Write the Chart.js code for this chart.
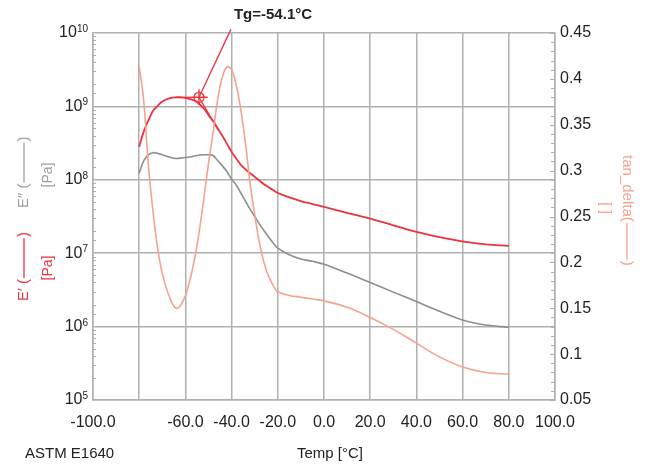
<!DOCTYPE html>
<html>
<head>
<meta charset="utf-8">
<script src="https://cdn.jsdelivr.net/npm/chart.js@4/dist/chart.umd.min.js"></script>
<style>
  body { margin: 0; background: #fff; }
  canvas { display: block; }
</style>
</head>
<body>
<canvas id="dma" width="645" height="466"></canvas>
<script>
// temperature, °C
var temps = [-80, -78, -76, -74, -72, -70, -67, -64, -61, -58, -55, -52, -50, -48, -46, -44, -42, -40,
             -38, -36, -34, -32, -30, -28, -26, -24, -22, -20, -15, -10, -5, 0, 10, 20, 30, 40, 50, 60, 70, 80]

// storage modulus E' [Pa]
var storageMod = [2.82e8, 4.57e8, 6.46e8, 8.71e8, 1.02e9, 1.17e9, 1.29e9, 1.33e9, 1.32e9, 1.26e9, 1.15e9, 9.33e8,
                  7.59e8, 6.31e8, 5.01e8, 3.98e8, 3.09e8, 2.40e8, 1.95e8, 1.60e8, 1.39e8, 1.23e8, 1.10e8, 9.77e7,
                  8.71e7, 7.94e7, 7.24e7, 6.61e7, 5.75e7, 5.13e7, 4.68e7, 4.27e7, 3.55e7, 2.95e7, 2.40e7, 1.95e7,
                  1.66e7, 1.45e7, 1.32e7, 1.26e7]

// loss modulus E'' [Pa]
var lossMod = [1.23e8, 1.82e8, 2.19e8, 2.34e8, 2.29e8, 2.19e8, 2.04e8, 1.95e8, 2.00e8, 2.04e8, 2.14e8, 2.19e8,
               2.19e8, 2.14e8, 1.82e8, 1.55e8, 1.29e8, 1.02e8, 8.51e7, 6.61e7, 5.13e7, 3.98e7, 3.16e7, 2.51e7,
               2.04e7, 1.66e7, 1.38e7, 1.17e7, 9.55e6, 8.32e6, 7.76e6, 7.08e6, 5.37e6, 3.98e6, 2.95e6, 2.19e6,
               1.62e6, 1.23e6, 1.05e6, 9.77e5]

// tan delta []
var tanDelta = [0.414, 0.375, 0.305, 0.255, 0.215, 0.188, 0.163, 0.150, 0.158, 0.181, 0.218, 0.270,
                0.308, 0.342, 0.378, 0.402, 0.413, 0.410, 0.393, 0.366, 0.330, 0.286, 0.252, 0.222,
                0.200, 0.185, 0.175, 0.168, 0.164, 0.162, 0.160, 0.158, 0.151, 0.140, 0.127, 0.112,
                0.097, 0.086, 0.080, 0.078]

// Tg onset construction (on E')
var tgTemp = -54.1
var tgMod = 1.33e9
var tgFlatX = [-64.0, -50.3]
var tgSlopeEnd = { x: -45.8, y: 4.77e8 }
var tgPointerEnd = { x: -40.3, y: 1.12e10 }

var xTicks = [-100, -80, -60, -40, -20, 0, 20, 40, 60, 80, 100]
var decades = [5, 6, 7, 8, 9, 10]

var RED = '#ec3340'
var GRAY = '#8e8e8e'
var SALMON = '#f6a28e'
var GRID = '#b0b0b0'
var FONT = "'Liberation Sans', Arial, sans-serif"

function pts(ys) {
  return temps.map(function (t, i) { return { x: t, y: ys[i] } })
}

function isDecade(v) {
  var l = Math.log10(v)
  return Math.abs(l - Math.round(l)) < 1e-6
}

var extrasPlugin = {
  id: 'extras',
  afterDraw: function (chart) {
    var ctx = chart.ctx
    var area = chart.chartArea
    var yS = chart.scales.y
    var y2 = chart.scales.y2
    ctx.save()

    // inner minor ticks
    ctx.strokeStyle = GRID
    ctx.lineWidth = 1
    yS.ticks.forEach(function (t) {
      if (isDecade(t.value)) return
      var py = Math.round(yS.getPixelForValue(t.value)) + 0.5
      ctx.beginPath(); ctx.moveTo(area.left, py); ctx.lineTo(area.left + 3, py); ctx.stroke()
    })
    for (var k = 5; k <= 45; k++) {
      var py2 = Math.round(y2.getPixelForValue(k / 100)) + 0.5
      var len = (k % 5 === 0) ? 5 : 4
      ctx.beginPath(); ctx.moveTo(area.right - len, py2); ctx.lineTo(area.right, py2); ctx.stroke()
    }

    // log axis labels 10^n
    ctx.fillStyle = '#222'
    ctx.textAlign = 'right'
    decades.forEach(function (n) {
      var py = yS.getPixelForValue(Math.pow(10, n))
      var ex = String(n)
      ctx.font = '10px ' + FONT
      var ew = ctx.measureText(ex).width
      ctx.textBaseline = 'alphabetic'
      ctx.fillText(ex, area.left - 5, py - 1)
      ctx.font = '16px ' + FONT
      ctx.textBaseline = 'middle'
      ctx.fillText('10', area.left - 5 - ew, py)
    })

    // title
    ctx.font = 'bold 15px ' + FONT
    ctx.textAlign = 'center'
    ctx.textBaseline = 'middle'
    ctx.fillText('Tg=-54.1°C', 273, 15)

    // bottom texts
    ctx.font = '15px ' + FONT
    ctx.textAlign = 'left'
    ctx.fillText('ASTM E1640', 25, 454)
    ctx.textAlign = 'center'
    ctx.fillText('Temp [°C]', 330, 454)

    // axis titles
    function legendTitle(x, y0, rot, label, lineLen, color) {
      ctx.save()
      ctx.translate(x, y0)
      ctx.rotate(rot)
      ctx.fillStyle = color
      ctx.strokeStyle = color
      ctx.lineWidth = 1.3
      ctx.font = '15px ' + FONT
      ctx.textAlign = 'left'
      ctx.textBaseline = 'middle'
      ctx.fillText(label, 0, 0)
      var w = ctx.measureText(label).width
      ctx.beginPath(); ctx.moveTo(w + 1, 0); ctx.lineTo(w + 1 + lineLen, 0); ctx.stroke()
      ctx.fillText(')', w + 2 + lineLen, 0)
      ctx.restore()
    }
    function unitText(x, y, rot, txt, color) {
      ctx.save()
      ctx.translate(x, y)
      ctx.rotate(rot)
      ctx.fillStyle = color
      ctx.font = '14px ' + FONT
      ctx.textAlign = 'center'
      ctx.textBaseline = 'middle'
      ctx.fillText(txt, 0, 0)
      ctx.restore()
    }
    legendTitle(24, 301, -Math.PI / 2, 'E′ (', 40, RED)
    unitText(48, 268, -Math.PI / 2, '[Pa]', RED)
    legendTitle(24, 208, -Math.PI / 2, 'E″ (', 40, '#a0a0a0')
    unitText(48, 175, -Math.PI / 2, '[Pa]', '#a0a0a0')

    legendTitle(627, 155, Math.PI / 2, 'tan_delta(', 37, SALMON)
    unitText(605, 208, Math.PI / 2, '[ ]', SALMON)

    ctx.restore()
  }
}

var lineBase = { fill: false, pointRadius: 0, tension: 0.4 }

var datasets = [
  Object.assign({ label: 'tan_delta', data: pts(tanDelta), yAxisID: 'y2', borderColor: SALMON, borderWidth: 1.6 }, lineBase),
  Object.assign({ label: "E''", data: pts(lossMod), yAxisID: 'y', borderColor: GRAY, borderWidth: 1.6 }, lineBase),
  Object.assign({ label: "E'", data: pts(storageMod), yAxisID: 'y', borderColor: RED, borderWidth: 1.8 }, lineBase),
  { label: 'tg-flat', data: [{ x: tgFlatX[0], y: tgMod }, { x: tgFlatX[1], y: tgMod }], yAxisID: 'y',
    borderColor: RED, borderWidth: 1.3, pointRadius: 0, tension: 0 },
  { label: 'tg-slope', data: [{ x: tgTemp, y: tgMod }, tgSlopeEnd], yAxisID: 'y',
    borderColor: RED, borderWidth: 1.3, pointRadius: 0, tension: 0 },
  { label: 'tg-pointer', data: [{ x: tgTemp, y: tgMod }, tgPointerEnd], yAxisID: 'y',
    borderColor: RED, borderWidth: 1.3, pointRadius: 0, tension: 0, clip: false },
  { label: 'tg-ring', data: [{ x: tgTemp, y: tgMod }], yAxisID: 'y', showLine: false,
    pointStyle: 'circle', pointRadius: 5, pointBorderColor: RED, pointBackgroundColor: 'rgba(0,0,0,0)', pointBorderWidth: 1.3 },
  { label: 'tg-cross', data: [{ x: tgTemp, y: tgMod }], yAxisID: 'y', showLine: false,
    pointStyle: 'cross', pointRadius: 8, pointBorderColor: RED, pointBorderWidth: 1.3 }
]

new Chart(document.getElementById('dma'), {
  type: 'line',
  data: { datasets: datasets },
  options: {
    responsive: false,
    animation: false,
    layout: { padding: { top: 33, left: 0, right: 0, bottom: 0 } },
    plugins: { legend: { display: false }, tooltip: { enabled: false } },
    scales: {
      x: {
        type: 'linear', position: 'bottom', min: -100, max: 100,
        afterBuildTicks: function (s) { s.ticks = xTicks.map(function (v) { return { value: v } }) },
        afterFit: function (s) { s.height = 66 },
        grid: { color: GRID, lineWidth: 1.5, drawTicks: false },
        border: { color: GRID, width: 1.5 },
        ticks: {
          padding: 13, color: '#222', font: { family: FONT, size: 16 }, autoSkip: false, maxRotation: 0,
          callback: function (v) { return v === -80 ? '' : v.toFixed(1) }
        }
      },
      y: {
        type: 'logarithmic', position: 'left', min: 1e5, max: 1e10,
        afterFit: function (s) { s.width = 93 },
        grid: {
          lineWidth: 1.5, drawTicks: false,
          color: function (c) { return c.tick && isDecade(c.tick.value) ? GRID : 'rgba(0,0,0,0)' }
        },
        border: { color: GRID, width: 1.5 },
        ticks: { autoSkip: false, callback: function () { return '' } }
      },
      y2: {
        type: 'linear', position: 'right', min: 0.05, max: 0.45,
        afterFit: function (s) { s.width = 90 },
        grid: { display: false, drawTicks: false },
        border: { color: GRID, width: 1.5 },
        ticks: {
          stepSize: 0.05, padding: 5, color: '#222', font: { family: FONT, size: 16 },
          callback: function (v) { return String(+v.toFixed(2)) }
        }
      }
    }
  },
  plugins: [extrasPlugin]
})
</script>
</body>
</html>
